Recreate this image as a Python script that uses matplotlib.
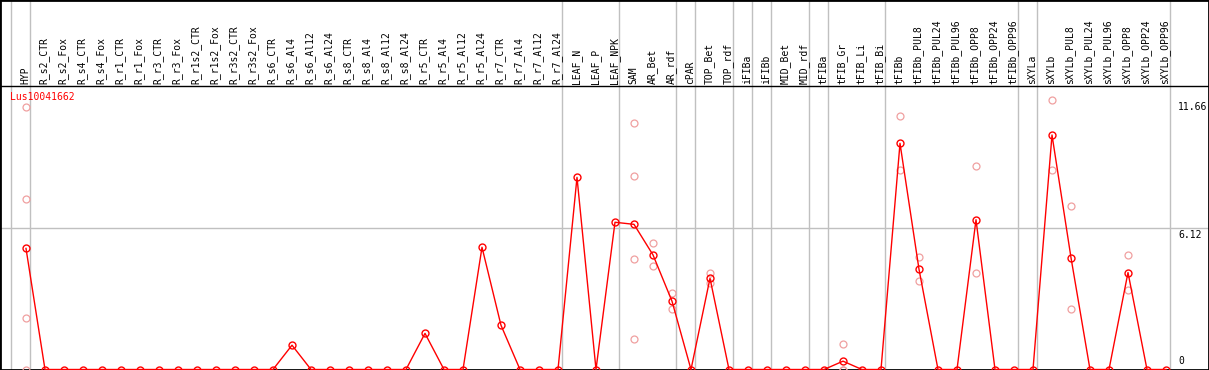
import matplotlib
matplotlib.use("Agg")
import matplotlib.pyplot as plt

gene = "Lus10041662"

samples = ["HYP",
           "R_s2_CTR", "R_s2_Fox", "R_s4_CTR", "R_s4_Fox", "R_r1_CTR", "R_r1_Fox",
           "R_r3_CTR", "R_r3_Fox", "R_r1s2_CTR", "R_r1s2_Fox", "R_r3s2_CTR", "R_r3s2_Fox",
           "R_s6_CTR", "R_s6_Al4", "R_s6_Al12", "R_s6_Al24", "R_s8_CTR", "R_s8_Al4",
           "R_s8_Al12", "R_s8_Al24", "R_r5_CTR", "R_r5_Al4", "R_r5_Al12", "R_r5_Al24",
           "R_r7_CTR", "R_r7_Al4", "R_r7_Al12", "R_r7_Al24",
           "LEAF_N", "LEAF_P", "LEAF_NPK",
           "SAM", "AR_Bet", "AR_rdf", "cPAR", "TOP_Bet", "TOP_rdf", "iFIBa", "iFIBb",
           "MID_Bet", "MID_rdf", "tFIBa", "tFIB_Gr", "tFIB_Li", "tFIB_Bi",
           "tFIBb", "tFIBb_PUL8", "tFIBb_PUL24", "tFIBb_PUL96", "tFIBb_OPP8",
           "tFIBb_OPP24", "tFIBb_OPP96", "sXYLa",
           "sXYLb", "sXYLb_PUL8", "sXYLb_PUL24", "sXYLb_PUL96", "sXYLb_OPP8",
           "sXYLb_OPP24", "sXYLb_OPP96"]

means = [5.23,
         0, 0, 0, 0, 0, 0,
         0, 0, 0, 0, 0, 0,
         0, 1.05, 0, 0, 0, 0,
         0, 0, 1.56, 0, 0, 5.28,
         1.91, 0, 0, 0,
         8.30, 0, 6.36,
         6.27, 4.95, 2.95, 0, 3.94, 0, 0, 0,
         0, 0, 0, 0.36, 0, 0,
         9.77, 4.33, 0, 0, 6.47,
         0, 0, 0,
         10.13, 4.83, 0, 0, 4.19,
         0, 0]

# individual replicates (pale circles)
replicates = {
    "HYP": [11.35, 7.35, 2.21, 0.0],
    "SAM": [10.64, 8.35, 4.76, 1.32],
    "AR_Bet": [5.45, 4.46],
    "AR_rdf": [3.30, 2.60],
    "TOP_Bet": [4.17, 3.74],
    "tFIB_Gr": [1.09, 0.0, 0.0],
    "tFIBb": [10.94, 8.60],
    "tFIBb_PUL8": [4.86, 3.82],
    "tFIBb_OPP8": [8.78, 4.16],
    "sXYLb": [11.66, 8.60],
    "sXYLb_PUL8": [7.05, 2.61],
    "sXYLb_OPP8": [4.95, 3.43],
}

# last sample index of each tissue group
group_ends = [-1, 0, 28, 31, 34, 35, 37, 38, 39, 41, 42, 45, 52, 53, 60]

y_marks = [0, 6.12, 11.66]


# pixel row -> data value
def py(p):
    return (369.5 - p) / 23.15


W, H = 1209, 370
fig = plt.figure(figsize=(W / 100, H / 100), dpi=100)
ax = fig.add_axes([0, 0, 1, 1])
ax.set_xlim(-26 / 19, (W - 26) / 19)
ax.set_ylim(py(H), py(0))
ax.set_xticks([])
ax.set_yticks([])
for s in ax.spines.values():
    s.set_linewidth(2)
    s.set_color("black")

grey = "#c0c0c0"
for g in group_ends:
    ax.axvline(g + 4 / 19, color=grey, lw=1, zorder=1)
ax.axhline(6.12, color=grey, lw=1, zorder=1)
ax.axhline(py(85.5), color="black", lw=1, zorder=2)

mono = "DejaVu Sans Mono"
xs = list(range(len(samples)))
for i, name in enumerate(samples):
    ax.text(i - 0.05, py(83.5), name, rotation=90, ha="center", va="bottom",
            fontsize=7, family=mono)

for name, vals in replicates.items():
    i = samples.index(name)
    ax.plot([i] * len(vals), vals, "o", ms=5, mfc="none", mec="#f0a0a0",
            mew=0.9, zorder=3)

ax.plot(xs, means, "-", color="red", lw=1, zorder=4)
ax.plot(xs, means, "o", ms=5, mfc="none", mec="red", mew=1, zorder=5)

ax.text(10 / 19 - 26 / 19, py(97.5), gene, color="red", fontsize=7,
        family=mono, ha="left", va="center")

for v in y_marks:
    if v == 0:
        ax.text(1178 / 19 - 26 / 19, py(366.5), "0", fontsize=7, family=mono,
                ha="left", va="bottom")
    else:
        lab = ax.text(1178 / 19 - 26 / 19, v - 0.1, f"{v:.2f}", fontsize=7,
                      family=mono, ha="left", va="top")

fig.savefig("out.png", dpi=100)
